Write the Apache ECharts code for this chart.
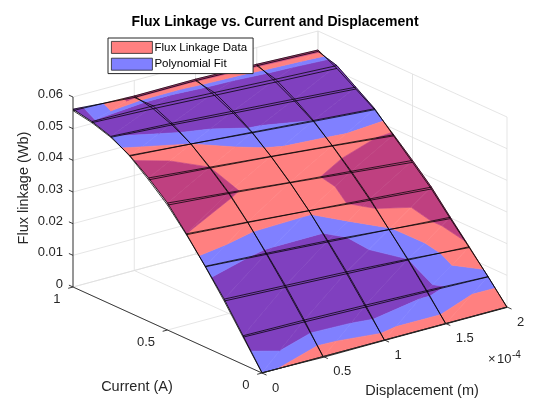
<!DOCTYPE html>
<html>
<head>
<meta charset="utf-8">
<style>
  html, body { margin: 0; padding: 0; background: #fff; }
  #chart { width: 560px; height: 420px; }
</style>
<script src="https://cdn.jsdelivr.net/npm/echarts@6/dist/echarts.min.js"></script>
</head>
<body>
<div id="chart"></div>
<script>
// measurement grid
const currentValues = [0, 0.1, 0.2, 0.3, 0.4, 0.5, 0.6, 0.7, 0.8, 0.9, 1.0];
const displacementValues = [0, 0.5e-4, 1.0e-4, 1.5e-4, 2.0e-4];

// flux linkage (Wb): one row per current, one column per displacement
const fluxData = [
  [0, 0, 0, 0, 0],
  [0.0086, 0.0082, 0.0077, 0.0073, 0.0068],
  [0.0173, 0.0164, 0.0155, 0.0146, 0.0136],
  [0.0254, 0.0241, 0.0228, 0.0215, 0.0202],
  [0.0331, 0.0316, 0.0300, 0.0285, 0.0270],
  [0.0401, 0.0382, 0.0362, 0.0345, 0.0327],
  [0.0453, 0.0435, 0.0417, 0.0399, 0.0381],
  [0.0497, 0.0481, 0.0464, 0.0448, 0.0433],
  [0.0527, 0.0514, 0.0499, 0.0485, 0.0471],
  [0.0546, 0.0538, 0.0528, 0.0518, 0.0509],
  [0.0557, 0.0551, 0.0552, 0.0547, 0.0540]
];
const fluxFit = [
  [0.00009, -0.00027, -0.00015, -0.00015, -0.00015],
  [0.00905, 0.0088, 0.0083, 0.00769, 0.00689],
  [0.0179, 0.0170, 0.0161, 0.0149, 0.01333],
  [0.02555, 0.02446, 0.02322, 0.02153, 0.01975],
  [0.0328, 0.03145, 0.02994, 0.02805, 0.0264],
  [0.03944, 0.03787, 0.03605, 0.03405, 0.0321],
  [0.0447, 0.0432, 0.04158, 0.03975, 0.03774],
  [0.04949, 0.0481, 0.04661, 0.0451, 0.0436],
  [0.0530, 0.05194, 0.05056, 0.04916, 0.0477],
  [0.05496, 0.0547, 0.0537, 0.0527, 0.0518],
  [0.05615, 0.05465, 0.05475, 0.05425, 0.05355]
];

const displacementTicks = [0, 0.5e-4, 1.0e-4, 1.5e-4, 2.0e-4];
const displacementTickLabels = ['0', '0.5', '1', '1.5', '2'];
const currentTicks = [0, 0.5, 1];
const currentTickLabels = ['0', '0.5', '1'];
const fluxTicks = [0, 0.01, 0.02, 0.03, 0.04, 0.05, 0.06];
const fluxTickLabels = ['0', '0.01', '0.02', '0.03', '0.04', '0.05', '0.06'];

const FONT = '"Liberation Sans", Arial, Helvetica, sans-serif';
const TEXT = '#262626';

// box limits and the 3D view (plot-plane vectors of the unit box)
const dispMax = 2e-4, curMax = 1, fluxMax = 0.06;
const view = { o: [262, 373], ex: [245, -66], ey: [-189, -86], ez: [0, -190] };

function project(d, c, z) {
  const u = d / dispMax, v = c / curMax, w = z / fluxMax;
  return [
    view.o[0] + u * view.ex[0] + v * view.ey[0] + w * view.ez[0],
    view.o[1] + u * view.ex[1] + v * view.ey[1] + w * view.ez[1]
  ];
}
function unit(v, s) {
  const n = Math.hypot(v[0], v[1]);
  return [v[0] / n * s, v[1] / n * s];
}

// where the two surfaces nearly coincide only the upper one shows
const fightGap = 0.0003;
const bandColors = ['#8040bf', '#8080ff', '#ff8080', '#bf4080'];
const bandLo = [-Infinity, -fightGap, 0, fightGap];
const bandHi = [-fightGap, 0, fightGap, Infinity];

function lerpV(a, b, s) {
  const o = {};
  for (const k in a) o[k] = a[k] + (b[k] - a[k]) * s;
  return o;
}
function clip(poly, thr, keepAbove) {
  const out = [];
  for (let k = 0; k < poly.length; k++) {
    const a = poly[k], b = poly[(k + 1) % poly.length];
    const fa = keepAbove ? a.diff - thr : thr - a.diff;
    const fb = keepAbove ? b.diff - thr : thr - b.diff;
    if (fa >= 0) out.push(a);
    if ((fa >= 0) !== (fb >= 0)) out.push(lerpV(a, b, fa / (fa - fb)));
  }
  return out;
}
function area(pts) {
  let s = 0;
  for (let k = 0; k < pts.length; k++) {
    const a = pts[k], b = pts[(k + 1) % pts.length];
    s += a[0] * b[1] - b[0] * a[1];
  }
  return Math.abs(s / 2);
}

function vert(i, j) {
  return {
    d: displacementValues[j], c: currentValues[i],
    zd: fluxData[i][j], zf: fluxFit[i][j],
    diff: fluxData[i][j] - fluxFit[i][j]
  };
}

const dataFills = [], fitFills = [];
for (let i = 0; i < currentValues.length - 1; i++) {
  for (let j = 0; j < displacementValues.length - 1; j++) {
    const tris = [
      [vert(i, j), vert(i, j + 1), vert(i + 1, j + 1)],
      [vert(i, j), vert(i + 1, j + 1), vert(i + 1, j)]
    ];
    tris.forEach(tri => {
      for (let b = 0; b < 4; b++) {
        let poly = tri;
        if (bandLo[b] > -Infinity) poly = clip(poly, bandLo[b], true);
        if (poly.length >= 3 && bandHi[b] < Infinity) poly = clip(poly, bandHi[b], false);
        if (poly.length < 3) continue;
        const pts = poly.map(p => project(p.d, p.c, b >= 2 ? p.zd : p.zf));
        if (area(pts) < 0.01) continue;
        (b >= 2 ? dataFills : fitFills).push({ pts, color: bandColors[b] });
      }
    });
  }
}

function meshLines(z) {
  const lines = [];
  currentValues.forEach((c, i) => {
    lines.push(displacementValues.map((d, j) => project(d, c, z[i][j])));
  });
  displacementValues.forEach((d, j) => {
    lines.push(currentValues.map((c, i) => project(d, c, z[i][j])));
  });
  return lines;
}
const dataMesh = meshLines(fluxData);
const fitMesh = meshLines(fluxFit);

// grid lines on the floor and the two back walls
const wallSegs = [];
displacementTicks.forEach(d => {
  wallSegs.push([project(d, 0, 0), project(d, curMax, 0)]);
  wallSegs.push([project(d, curMax, 0), project(d, curMax, fluxMax)]);
});
currentTicks.forEach(c => {
  wallSegs.push([project(0, c, 0), project(dispMax, c, 0)]);
  wallSegs.push([project(dispMax, c, 0), project(dispMax, c, fluxMax)]);
});
fluxTicks.forEach(z => {
  wallSegs.push([project(0, curMax, z), project(dispMax, curMax, z)]);
  wallSegs.push([project(dispMax, 0, z), project(dispMax, curMax, z)]);
});

// axis lines, tick marks and texts
const axisSegs = [];
const axisTexts = [];
axisSegs.push([project(0, 0, 0), project(dispMax, 0, 0)]);
axisSegs.push([project(0, 0, 0), project(0, curMax, 0)]);
axisSegs.push([project(0, curMax, 0), project(0, curMax, fluxMax)]);

const tx = unit([-view.ey[0], -view.ey[1]], 5);
displacementTicks.forEach((d, k) => {
  const p = project(d, 0, 0);
  axisSegs.push([p, [p[0] + tx[0], p[1] + tx[1]]]);
  axisTexts.push({ text: displacementTickLabels[k], at: [p[0] + 10, p[1] + 15], align: 'left', size: 13 });
});
const ty = unit([-view.ex[0], -view.ex[1]], 5);
currentTicks.forEach((c, k) => {
  const p = project(0, c, 0);
  axisSegs.push([p, [p[0] + ty[0], p[1] + ty[1]]]);
  axisTexts.push({ text: currentTickLabels[k], at: [p[0] - 12.5, p[1] + 12.5], align: 'right', size: 13 });
});
const tz = unit(view.ey, 4.5);
fluxTicks.forEach((z, k) => {
  const p = project(0, curMax, z);
  axisSegs.push([p, [p[0] + tz[0], p[1] + tz[1]]]);
  axisTexts.push({ text: fluxTickLabels[k], at: [p[0] - 10, p[1] - 2.5], align: 'right', size: 13 });
});
const xEnd = project(dispMax, 0, 0);
axisTexts.push({ text: '\u00d7', at: [xEnd[0] - 19, xEnd[1] + 52.5], align: 'left', size: 13 });
axisTexts.push({ text: '10', at: [xEnd[0] - 10, xEnd[1] + 52.5], align: 'left', size: 13 });
axisTexts.push({ text: '-4', at: [xEnd[0] + 5, xEnd[1] + 48], align: 'left', size: 10 });
axisTexts.push({ text: 'Displacement (m)', at: [422, 391], align: 'center', size: 14.5 });
axisTexts.push({ text: 'Current (A)', at: [137, 386.5], align: 'center', size: 14.5 });
axisTexts.push({ text: 'Flux linkage (Wb)', at: [24, 188], align: 'center', size: 14.5, rot: Math.PI / 2 });

function polyItems(list) {
  return list.map((f, k) => [f.pts[0][0], f.pts[0][1], k]);
}
function fillRenderer(list) {
  return (params, api) => {
    const f = list[params.dataIndex];
    const points = f.pts.map(p => api.coord(p));
    return { type: 'polygon', shape: { points }, style: { fill: f.color, stroke: f.color, lineWidth: 0.6 } };
  };
}
function lineRenderer(list, color, width) {
  return (params, api) => {
    const points = list[params.dataIndex].map(p => api.coord(p));
    return { type: 'polyline', shape: { points }, style: { fill: null, stroke: color, lineWidth: width } };
  };
}

const chart = echarts.init(document.getElementById('chart'), null, { renderer: 'canvas' });
chart.setOption({
  animation: false,
  backgroundColor: '#fff',
  title: {
    text: 'Flux Linkage vs. Current and Displacement',
    left: 270, top: 10, textAlign: 'center',
    textStyle: { fontFamily: FONT, fontSize: 14, fontWeight: 'bold', color: '#000' }
  },
  legend: {
    orient: 'vertical', left: 108, top: 38,
    padding: [3, 6, 3, 3], itemGap: 4, itemWidth: 41, itemHeight: 12,
    backgroundColor: '#fff', borderColor: TEXT, borderWidth: 1, borderRadius: 0,
    textStyle: { fontFamily: FONT, fontSize: 11.5, color: '#000', padding: [0, 0, 0, -3] },
    data: [
      { name: 'Flux Linkage Data', icon: 'rect', itemStyle: { color: '#ff8080', borderColor: TEXT, borderWidth: 0.8 } },
      { name: 'Polynomial Fit', icon: 'rect', itemStyle: { color: '#8080ff', borderColor: TEXT, borderWidth: 0.8 } }
    ]
  },
  grid: { left: 0, right: 0, top: 0, bottom: 0 },
  xAxis: { type: 'value', min: 0, max: 560, show: false },
  yAxis: { type: 'value', min: 0, max: 420, inverse: true, show: false },
  series: [
    {
      type: 'custom', name: 'walls', silent: true, z: 1,
      data: wallSegs.map((s, k) => [s[0][0], s[0][1], k]),
      renderItem: lineRenderer(wallSegs, '#dedede', 0.8)
    },
    {
      type: 'custom', name: 'Polynomial Fit', silent: true, z: 2,
      itemStyle: { color: '#8080ff' },
      data: polyItems(fitFills),
      renderItem: fillRenderer(fitFills)
    },
    {
      type: 'custom', name: 'Flux Linkage Data', silent: true, z: 2,
      itemStyle: { color: '#ff8080' },
      data: polyItems(dataFills),
      renderItem: fillRenderer(dataFills)
    },
    {
      type: 'custom', name: 'Polynomial Fit', silent: true, z: 3,
      data: fitMesh.map((l, k) => [l[0][0], l[0][1], k]),
      renderItem: lineRenderer(fitMesh, '#000', 0.75)
    },
    {
      type: 'custom', name: 'Flux Linkage Data', silent: true, z: 3,
      data: dataMesh.map((l, k) => [l[0][0], l[0][1], k]),
      renderItem: lineRenderer(dataMesh, '#000', 0.75)
    },
    {
      type: 'custom', name: 'axes', silent: true, z: 4,
      data: axisSegs.map((s, k) => [s[0][0], s[0][1], k]),
      renderItem: lineRenderer(axisSegs, TEXT, 0.9)
    },
    {
      type: 'custom', name: 'labels', silent: true, z: 4,
      data: axisTexts.map((t, k) => [t.at[0], t.at[1], k]),
      renderItem: (params, api) => {
        const t = axisTexts[params.dataIndex];
        const p = api.coord(t.at);
        return {
          type: 'text', x: p[0], y: p[1], rotation: t.rot || 0,
          style: {
            text: t.text, fill: TEXT, fontFamily: FONT, fontSize: t.size,
            align: t.align, verticalAlign: 'middle'
          }
        };
      }
    }
  ]
});
</script>
</body>
</html>
